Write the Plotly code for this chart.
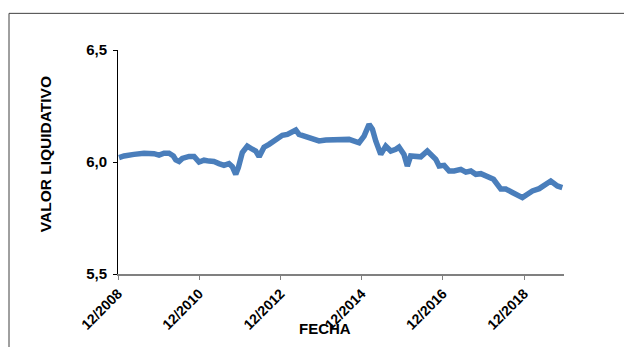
import plotly.graph_objects as go

dates = ["2008-12-10","2009-01-24","2009-04-23","2009-07-23","2009-10-21","2009-12-05","2010-01-19",
         "2010-03-05","2010-04-13","2010-05-05","2010-06-03","2010-07-02","2010-09-01","2010-10-16",
         "2010-11-30","2011-01-14","2011-02-28","2011-04-13","2011-05-28","2011-07-12","2011-08-26",
         "2011-09-25","2011-10-26","2011-11-18","2011-12-24","2012-02-07","2012-03-23","2012-04-23",
         "2012-05-23","2012-07-06","2012-08-20","2012-10-20","2012-12-18","2013-02-01","2013-03-18",
         "2013-04-18","2013-05-17","2013-07-01","2013-09-14","2013-11-13","2014-01-13","2014-03-28",
         "2014-06-20","2014-08-10","2014-11-08","2014-12-23","2015-02-06","2015-03-08","2015-04-07",
         "2015-05-22","2015-07-06","2015-08-20","2015-10-04","2015-11-02","2015-12-17","2016-01-16",
         "2016-02-15","2016-04-15","2016-05-16","2016-07-14","2016-08-28","2016-09-28","2016-10-28",
         "2016-12-12","2017-01-26","2017-03-12","2017-05-11","2017-06-25","2017-08-09","2017-09-23",
         "2017-11-07","2018-01-06","2018-03-01","2018-05-06","2018-06-20","2018-08-18","2018-10-18",
         "2018-11-16","2018-12-31","2019-02-14","2019-04-16","2019-06-14","2019-07-29","2019-09-26",
         "2019-11-10"]
values = [6.020,6.027,6.034,6.039,6.037,6.031,6.039,
          6.039,6.027,6.009,6.002,6.016,6.025,6.025,
          6.000,6.008,6.004,6.002,5.993,5.985,5.993,
          5.979,5.945,5.975,6.042,6.071,6.057,6.049,
          6.024,6.066,6.079,6.101,6.119,6.123,6.134,
          6.143,6.123,6.116,6.109,6.094,6.098,6.098,
          6.099,6.101,6.086,6.116,6.168,6.146,6.094,
          6.034,6.071,6.049,6.057,6.067,6.034,5.982,
          6.027,6.027,6.023,6.049,6.027,6.012,5.982,
          5.985,5.960,5.960,5.967,5.955,5.960,5.945,
          5.948,5.938,5.923,5.879,5.879,5.864,5.848,
          5.841,5.856,5.871,5.881,5.901,5.915,5.893,
          5.886]

x_tick_vals = ["2008-12-01","2010-12-01","2012-12-01","2014-12-01","2016-12-01","2018-12-01"]
x_tick_text = ["12/2008","12/2010","12/2012","12/2014","12/2016","12/2018"]
y_tick_vals = [5.5, 6.0, 6.5]
y_tick_text = ["5,5", "6,0", "6,5"]

font_family = "Liberation Sans, Arial, sans-serif"

fig = go.Figure()
fig.add_trace(go.Scatter(x=dates, y=values, mode="lines",
                         line=dict(color="#4a7ebb", width=5.5), showlegend=False))

fig.update_layout(
    width=632, height=347,
    margin=dict(l=110, r=76, t=42, b=81),
    paper_bgcolor="white", plot_bgcolor="white",
    font=dict(family=font_family, color="black"),
    xaxis=dict(type="date", range=["2008-12-01", "2019-11-25"], automargin=False,
               tickvals=x_tick_vals, ticktext=x_tick_text, tickangle=-45,
               tickfont=dict(size=14, family=font_family, weight="bold"),
               showgrid=False, zeroline=False, showline=True, linecolor="#808080", linewidth=2,
               ticks="outside", ticklen=4, tickcolor="#808080"),
    yaxis=dict(range=[5.5, 6.5], tickvals=y_tick_vals, ticktext=y_tick_text, automargin=False,
               tickfont=dict(size=15, family=font_family, weight="bold"), ticklabelstandoff=3,
               showgrid=False, zeroline=False, showline=True, linecolor="black", linewidth=1,
               ticks="outside", ticklen=4, tickcolor="black"),
    annotations=[
        dict(text="<b>FECHA</b>", x=(326-119)/446, y=(275-330)/224.3, xref="paper", yref="paper",
             showarrow=False, font=dict(size=15, family=font_family, color="black"),
             xanchor="center", yanchor="middle"),
        dict(text="<b>VALOR LIQUIDATIVO</b>", x=(46-119)/446, y=(275-155)/224.3, xref="paper", yref="paper",
             showarrow=False, textangle=-90, font=dict(size=15.5, family=font_family, color="black"),
             xanchor="center", yanchor="middle"),
    ],
    shapes=[
        dict(type="rect", xref="paper", yref="paper",
             x0=(10-119)/446, x1=(660-119)/446, y0=(275-380)/224.3, y1=(275-14)/224.3,
             line=dict(color="#404040", width=1), fillcolor="rgba(0,0,0,0)", layer="below"),
    ],
)

fig.write_html("out.html")
